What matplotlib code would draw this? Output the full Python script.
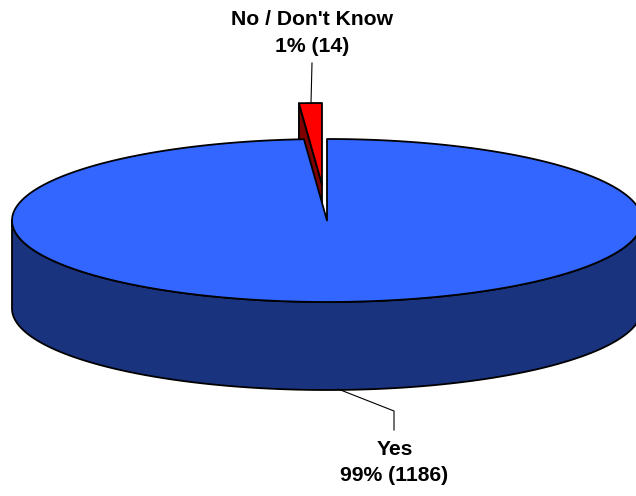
import numpy as np
import matplotlib.pyplot as plt
from matplotlib.patches import Polygon

labels = ['Yes', 'No / Don\'t Know']
counts = [1186, 14]
total = sum(counts)
pct = [round(c / total * 100) for c in counts]

plt.rcParams['font.family'] = ['Liberation Sans', 'DejaVu Sans']

# pixel coordinates, y pointing down
fig = plt.figure(figsize=(6.36, 4.96), dpi=100)
ax = fig.add_axes([0, 0, 1, 1])
ax.set_xlim(0, 636)
ax.set_ylim(496, 0)
ax.axis('off')

cx, cy = 327, 220.5
rx, ry = 315, 81.5
depth = 88
lw = 1.3


def rim(a0, a1, dx=0, dy=0, n=300):
    # clockwise from 12 o'clock
    t = np.linspace(a0, a1, n)
    return np.column_stack([cx + dx + rx * np.sin(t), cy + dy - ry * np.cos(t)])


split = 2 * np.pi * counts[0] / total

# red slice, pulled out of the pie
ox, oy = -5, -36
r = rim(split, 2 * np.pi, ox, oy)
apex = np.array([cx + ox, cy + oy])
wall = np.vstack([r[0], apex, apex + [0, depth], r[0] + [0, depth]])
ax.add_patch(Polygon(wall, fc='#800000', ec='k', lw=lw, joinstyle='round'))
ax.add_patch(Polygon(np.vstack([apex, r]), fc='#FF0000', ec='k', lw=lw, joinstyle='round'))

# blue side wall: only the front half of the rim shows
front = rim(np.pi / 2, 3 * np.pi / 2)
side = np.vstack([front, (front + [0, depth])[::-1]])
ax.add_patch(Polygon(side, fc='#1A337F', ec='k', lw=lw, joinstyle='round'))

# blue top
b = rim(0, split)
ax.add_patch(Polygon(np.vstack([[cx, cy], b]), fc='#3366FF', ec='k', lw=lw, joinstyle='round'))

# leader lines
ax.plot([312, 311], [63, 103], color='k', lw=0.8)
ax.plot([338, 394, 394], [389, 411, 430], color='k', lw=0.8)

ax.text(312, 33, f'{labels[1]}\n{pct[1]}% ({counts[1]})', ha='center', va='center',
        fontsize=15.2, fontweight='bold', linespacing=1.5, color='k')
ax.text(394.5, 462.5, f'{labels[0]}\n{pct[0]}% ({counts[0]})', ha='center', va='center',
        fontsize=15.2, fontweight='bold', linespacing=1.5, color='k')

fig.savefig('out.png', dpi=100)
